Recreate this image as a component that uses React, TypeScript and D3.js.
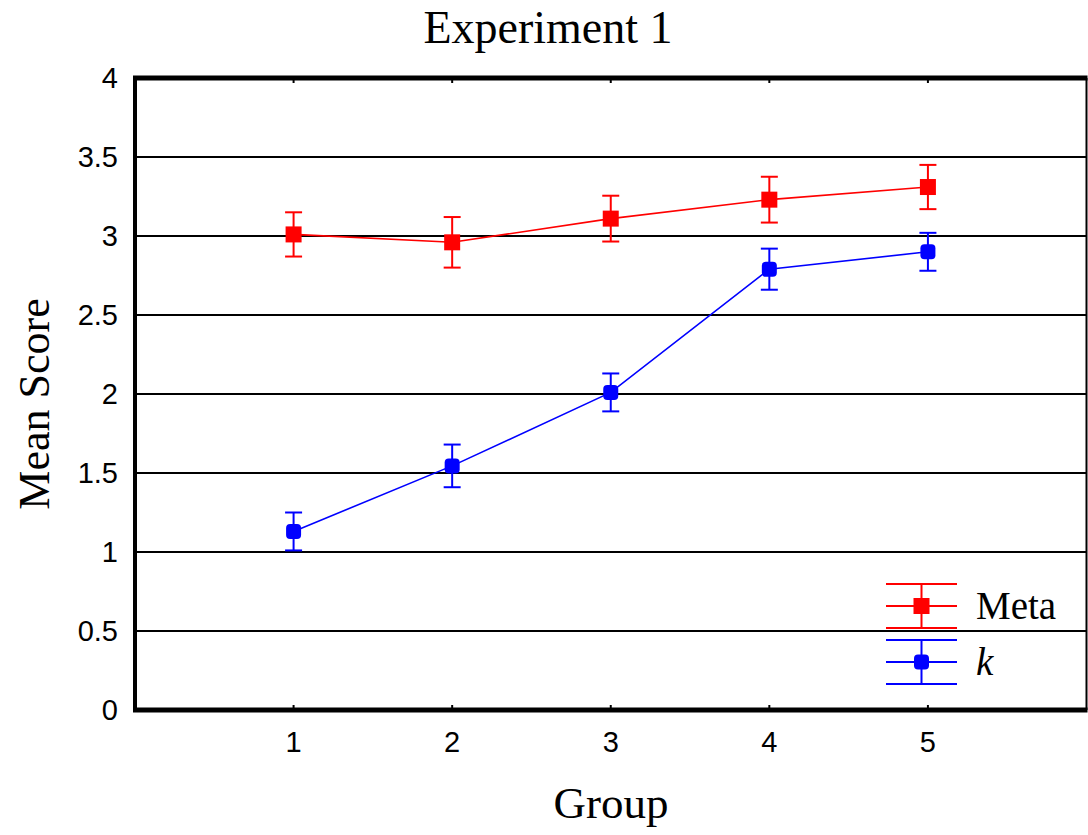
import React from 'react';
import * as d3 from 'd3';

// data
const groups = [1, 2, 3, 4, 5];
const metaMean = [3.01, 2.96, 3.11, 3.23, 3.31];
const metaErr = [0.14, 0.16, 0.145, 0.145, 0.14];
const kMean = [1.13, 1.545, 2.01, 2.79, 2.9];
const kErr = [0.12, 0.135, 0.12, 0.13, 0.12];
const yTicks = [0, 0.5, 1, 1.5, 2, 2.5, 3, 3.5, 4];
const xTicks = [1, 2, 3, 4, 5];

const W = 1088;
const H = 835;
const left = 135;
const right = 1086.5;
const top = 78;
const bottom = 710;

const serif = '"Liberation Serif", "Times New Roman", serif';
const sans = '"Liberation Sans", Arial, sans-serif';

const App = () => {
  const x = d3.scaleLinear().domain([0, 6]).range([left, right]);
  const y = d3.scaleLinear().domain([0, 4]).range([bottom, top]);

  const line = d3.line<number>()
    .x((_, i) => x(groups[i]))
    .y(d => y(d));

  const capW = 8.5;

  const series = [
    { name: 'Meta', mean: metaMean, err: metaErr, color: '#ff0000', shape: 'square' },
    { name: 'k', mean: kMean, err: kErr, color: '#0000ff', shape: 'circle' },
  ];

  return (
    <svg width={W} height={H} style={{ position: 'absolute', left: 0, top: 0, background: '#fff' }}>
      {/* title */}
      <text x={548} y={43} textAnchor="middle" fontFamily={serif} fontSize={46}>Experiment 1</text>

      {/* grid */}
      {yTicks.filter(t => t > 0 && t < 4).map(t => (
        <line key={t} x1={left} x2={right} y1={y(t)} y2={y(t)} stroke="#000" strokeWidth={2} />
      ))}

      {/* tick marks */}
      {yTicks.map(t => (
        <g key={'yt' + t}>
          <line x1={left} x2={left + 5} y1={y(t)} y2={y(t)} stroke="#000" strokeWidth={2} />
          <line x1={right - 5} x2={right} y1={y(t)} y2={y(t)} stroke="#000" strokeWidth={2} />
        </g>
      ))}
      {xTicks.map(t => (
        <g key={'xt' + t}>
          <line x1={x(t)} x2={x(t)} y1={bottom} y2={bottom - 5} stroke="#000" strokeWidth={2} />
          <line x1={x(t)} x2={x(t)} y1={top} y2={top + 5} stroke="#000" strokeWidth={2} />
        </g>
      ))}

      {/* frame */}
      <line x1={right} x2={right} y1={top} y2={bottom} stroke="#000" strokeWidth={2} />
      <line x1={left - 2} x2={right + 1} y1={top} y2={top} stroke="#000" strokeWidth={5} />
      <line x1={left - 2} x2={right + 1} y1={bottom} y2={bottom} stroke="#000" strokeWidth={5} />
      <line x1={left} x2={left} y1={top - 2} y2={bottom + 2} stroke="#000" strokeWidth={4} />

      {/* tick labels */}
      {yTicks.map(t => (
        <text key={'yl' + t} x={118} y={y(t) + 10} textAnchor="end" fontFamily={sans} fontSize={29}>{t}</text>
      ))}
      {xTicks.map(t => (
        <text key={'xl' + t} x={x(t)} y={752} textAnchor="middle" fontFamily={sans} fontSize={29}>{t}</text>
      ))}

      {/* axis titles */}
      <text x={611} y={818} textAnchor="middle" fontFamily={serif} fontSize={45}>Group</text>
      <text transform="translate(49, 404) rotate(-90)" textAnchor="middle" fontFamily={serif} fontSize={44}>Mean Score</text>

      {/* series */}
      {series.map(s => (
        <g key={s.name}>
          <path d={line(s.mean) || ''} fill="none" stroke={s.color} strokeWidth={1.6} />
          {s.mean.map((m, i) => {
            const cx = x(groups[i]);
            const y1 = y(m + s.err[i]);
            const y2 = y(m - s.err[i]);
            return (
              <g key={i} stroke={s.color} strokeWidth={2}>
                <line x1={cx} x2={cx} y1={y1} y2={y2} />
                <line x1={cx - capW} x2={cx + capW} y1={y1} y2={y1} />
                <line x1={cx - capW} x2={cx + capW} y1={y2} y2={y2} />
                {s.shape === 'square'
                  ? <rect x={cx - 8} y={y(m) - 8} width={16} height={16} fill={s.color} stroke="none" />
                  : <rect x={cx - 7.5} y={y(m) - 7.5} width={15} height={15} rx={4} fill={s.color} stroke="none" />}
              </g>
            );
          })}
        </g>
      ))}

      {/* legend */}
      {series.map((s, i) => {
        const cy = 606 + i * 56;
        const lx1 = 886;
        const lx2 = 957;
        const cx = 921.5;
        return (
          <g key={'lg' + s.name}>
            <g stroke={s.color} strokeWidth={2}>
              <line x1={lx1} x2={lx2} y1={cy - 22} y2={cy - 22} />
              <line x1={lx1} x2={lx2} y1={cy} y2={cy} />
              <line x1={lx1} x2={lx2} y1={cy + 22} y2={cy + 22} />
              <line x1={cx} x2={cx} y1={cy - 22} y2={cy + 22} />
            </g>
            {s.shape === 'square'
              ? <rect x={cx - 8} y={cy - 8} width={16} height={16} fill={s.color} />
              : <rect x={cx - 7.5} y={cy - 7.5} width={15} height={15} rx={4} fill={s.color} />}
            <text x={976} y={cy + 13} fontFamily={serif} fontSize={39} fontStyle={s.name === 'k' ? 'italic' : 'normal'}>{s.name}</text>
          </g>
        );
      })}
    </svg>
  );
};

export default App;
